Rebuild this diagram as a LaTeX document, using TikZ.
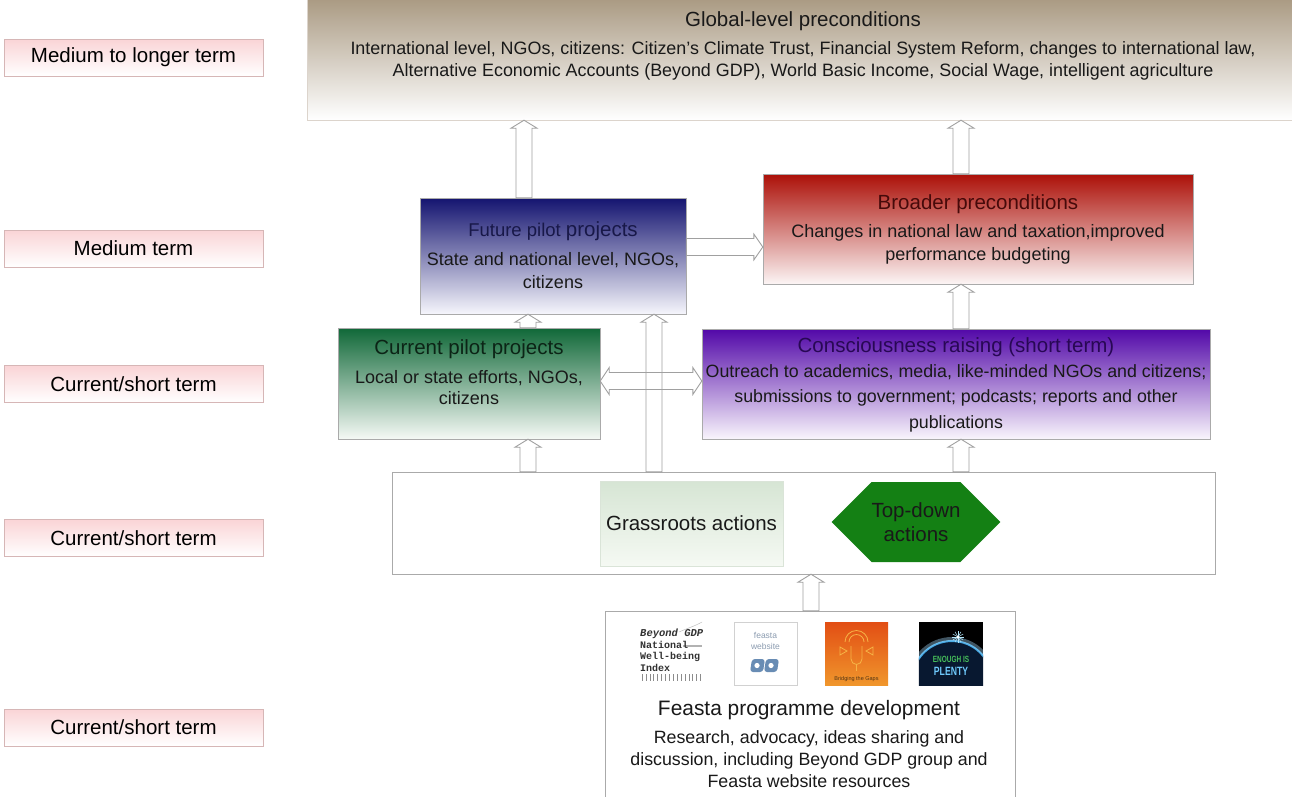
\documentclass[tikz,border=0pt]{standalone}
\usepackage{fontspec}
\setmainfont{Liberation Sans}
\newfontfamily\logomono{Liberation Mono}
\usetikzlibrary{calc,shapes.symbols}
\definecolor{globtop}{RGB}{168,152,128}
\definecolor{globborder}{RGB}{220,212,204}
\definecolor{futtop}{RGB}{20,20,112}
\definecolor{futbot}{RGB}{246,246,252}
\definecolor{brdtop}{RGB}{172,16,8}
\definecolor{brdbot}{RGB}{252,245,245}
\definecolor{curtop}{RGB}{16,104,56}
\definecolor{curbot}{RGB}{245,249,245}
\definecolor{contop}{RGB}{82,8,168}
\definecolor{conbot}{RGB}{249,245,252}
\definecolor{lbltop}{RGB}{250,212,214}
\definecolor{lblborder}{RGB}{214,182,182}
\definecolor{grasstop}{RGB}{214,229,212}
\definecolor{grassbot}{RGB}{245,249,243}
\definecolor{grassborder}{RGB}{218,228,216}
\definecolor{tdgreen}{RGB}{20,128,20}
\definecolor{arrowgray}{RGB}{160,160,160}
\definecolor{boxborder}{RGB}{170,170,170}
\definecolor{futtitle}{RGB}{24,24,72}
\definecolor{brdtitle}{RGB}{70,10,10}
\definecolor{curtitle}{RGB}{12,36,22}
\definecolor{contitle}{RGB}{40,8,84}
\definecolor{logotext}{RGB}{50,50,50}
\definecolor{webblue}{RGB}{140,156,176}
\definecolor{infblue}{RGB}{104,140,180}
\definecolor{orangeA}{RGB}{226,78,20}
\definecolor{orangeB}{RGB}{240,150,44}
\definecolor{logoyellow}{RGB}{246,180,70}
\definecolor{bridgetext}{RGB}{80,50,20}
\definecolor{planetdark}{RGB}{8,24,48}
\definecolor{planetblue}{RGB}{70,170,230}
\definecolor{enoughgreen}{RGB}{70,190,90}
\definecolor{plentyblue}{RGB}{110,200,250}
\newcommand\ftitle{\fontsize{20.5}{24}\selectfont}
\newcommand\hup[3]{\draw[harrow] let \p1=(#2), \p2=(#3) in
  (#1pt-8pt,\y1) -- (#1pt-8pt,\y2-8pt) -- (#1pt-13pt,\y2-8pt) -- (#1pt,\y2)
  -- (#1pt+13pt,\y2-8pt) -- (#1pt+8pt,\y2-8pt) -- (#1pt+8pt,\y1) -- cycle;}
\newcommand\hright[3]{\draw[harrow] let \p1=(#2), \p2=(#3) in
  (\x1,-#1pt+8.5pt) -- (\x2-9pt,-#1pt+8.5pt) -- (\x2-9pt,-#1pt+13pt) -- (\x2,-#1pt)
  -- (\x2-9pt,-#1pt-13pt) -- (\x2-9pt,-#1pt-8.5pt) -- (\x1,-#1pt-8.5pt) -- cycle;}
\newcommand\hboth[3]{\draw[harrow] let \p1=(#2), \p2=(#3) in
  (\x1,-#1pt) -- (\x1+9pt,-#1pt+13.5pt) -- (\x1+9pt,-#1pt+8.5pt) -- (\x2-9pt,-#1pt+8.5pt)
  -- (\x2-9pt,-#1pt+13.5pt) -- (\x2,-#1pt) -- (\x2-9pt,-#1pt-13.5pt) -- (\x2-9pt,-#1pt-8.5pt)
  -- (\x1+9pt,-#1pt-8.5pt) -- (\x1+9pt,-#1pt-13.5pt) -- cycle;}
\begin{document}
\begin{tikzpicture}[x=1pt,y=-1pt,
  vgrad/.style 2 args={top color=#1, bottom color=#2},
  lbl/.style={draw=lblborder, vgrad={lbltop}{white}, minimum width=259, minimum height=37, inner sep=0, font=\ftitle},
  ttl/.style={inner sep=0, font=\ftitle, align=center},
  bdy/.style={inner sep=0, align=center, text=black!90},
  harrow/.style={draw=arrowgray, line width=0.9, fill=none, line join=miter}]
\fill[white] (0,0) rectangle (1292,796);
\useasboundingbox (0,0) rectangle (1292,796);

% left time labels
\node[lbl] (l1) at (133.5,57.5) {Medium to longer term};
\node[lbl] (l2) at (133.5,248.5) {Medium term};
\node[lbl] (l3) at (133.5,384) {Current/short term};
\node[lbl] (l4) at (133.5,538) {Current/short term};
\node[lbl] (l5) at (133.5,727.5) {Current/short term};

% main boxes
\node[draw=globborder, vgrad={globtop}{white}, minimum width=989, minimum height=124, inner sep=0] (glob) at (801.5,58) {};
\node[ttl, text=black!90] (globt) at (803,21) {Global-level preconditions};
\node[bdy, font={\fontsize{17.9}{22}\selectfont}] (globb) at (803,61)
  {International level, NGOs, citizens: Citizen’s Climate Trust, Financial System Reform, changes to international law,\\
   Alternative Economic Accounts (Beyond GDP), World Basic Income, Social Wage, intelligent agriculture};

\node[draw=boxborder, vgrad={futtop}{futbot}, minimum width=266, minimum height=116, inner sep=0] (fut) at (553,256) {};
\node[inner sep=0, text=futtitle] (futt) at (553,231) {\fontsize{18.5}{22}\selectfont Future pilot \fontsize{20.5}{24}\selectfont projects};
\node[bdy, font={\fontsize{18}{23}\selectfont}] (futb) at (553,270.5) {State and national level, NGOs,\\citizens};

\node[draw=boxborder, vgrad={brdtop}{brdbot}, minimum width=430, minimum height=110, inner sep=0] (brd) at (978,229) {};
\node[ttl, text=brdtitle] (brdt) at (978,204) {Broader preconditions};
\node[bdy, font={\fontsize{18}{23}\selectfont}] (brdb) at (978,244.5) {Changes in national law and taxation,improved\\performance budgeting};

\node[draw=boxborder, vgrad={curtop}{curbot}, minimum width=262, minimum height=111, inner sep=0] (cur) at (469,383.5) {};
\node[ttl, text=curtitle] (curt) at (469,349) {Current pilot projects};
\node[bdy, font={\fontsize{18}{21}\selectfont}] (curb) at (469,387.5) {Local or state efforts, NGOs,\\citizens};

\node[draw=boxborder, vgrad={contop}{conbot}, minimum width=508, minimum height=110, inner sep=0] (con) at (956,384) {};
\node[ttl, text=contitle] (cont) at (956,347) {Consciousness raising (short term)};
\node[bdy, font={\fontsize{17.8}{25.5}\selectfont}] (conb) at (956,398) {Outreach to academics, media, like-minded NGOs and citizens;\\submissions to government; podcasts; reports and other\\publications};

% grassroots / top-down container
\node[draw=boxborder, fill=white, minimum width=823, minimum height=102, inner sep=0] (grp) at (803.5,523) {};
\node[draw=grassborder, vgrad={grasstop}{grassbot}, minimum width=183, minimum height=85, inner sep=0, font=\ftitle, text=black!90] (gra) at (691.5,523.5) {Grassroots actions};
\node[signal, signal to=west and east, signal pointer angle=90, fill=tdgreen, minimum width=158, minimum height=80, inner sep=0, align=center, font=\ftitle, text=black!90] (td) at (916,522) {Top-down\\actions};

% Feasta box
\node[draw=boxborder, fill=white, minimum width=410, minimum height=220, inner sep=0] (fea) at (810,721) {};
\node[ttl, text=black!90, font={\fontsize{20.9}{24}\selectfont}] (feat) at (809,710) {Feasta programme development};
\node[bdy, font={\fontsize{17.8}{22}\selectfont}] (feab) at (809,759) {Research, advocacy, ideas sharing and\\discussion, including Beyond GDP group and\\Feasta website resources};

% logo 1: Beyond GDP index
\node[minimum width=67, minimum height=63, inner sep=0] (lg1) at (669.5,653.5) {};
\draw[black!25, line width=0.5] (679,632) .. controls (688,628) and (695,626) .. (702,622);
\draw[black!30, line width=1.2] (683,646) -- (702,646);
\node[anchor=west, inner sep=0, text=logotext, font={\logomono\bfseries\itshape\fontsize{10.5}{11}\selectfont}] (lg1a) at (640,634) {Beyond GDP};
\node[anchor=west, inner sep=0, text=logotext, font={\logomono\bfseries\fontsize{10}{11}\selectfont}] (lg1b) at (640,645) {National};
\node[anchor=west, inner sep=0, text=logotext, font={\logomono\bfseries\fontsize{10}{11}\selectfont}] (lg1c) at (640,657) {Well-being};
\node[anchor=west, inner sep=0, text=logotext, font={\logomono\bfseries\fontsize{10}{11}\selectfont}] (lg1d) at (640,668) {Index};
\foreach \i in {0,...,15} \draw[black!45, line width=0.6] (642+\i*3.9,674) -- (642+\i*3.9,681);

% logo 2: feasta website
\node[draw=black!18, fill=white, minimum width=63, minimum height=63, inner sep=0] (lg2) at (765.5,653.5) {};
\node[inner sep=0, align=center, text=webblue, font={\fontsize{8.5}{11}\selectfont}] (lg2t) at (765.5,641) {feasta\\website};
\fill[infblue, rounded corners=3] (752,659) -- (765,659) -- (763,672) -- (750,672) -- cycle;
\fill[infblue, rounded corners=3] (766,659) -- (779,659) -- (777,672) -- (764,672) -- cycle;
\fill[white] (757,665.5) circle (2.6);
\fill[white] (771,665.5) circle (2.6);

% logo 3: Bridging the Gaps
\node[vgrad={orangeA}{orangeB}, minimum width=63, minimum height=63, inner sep=0] (lg3) at (856.5,653.5) {};
\draw[logoyellow, line width=0.8] (845,642) arc (180:360:11.5);
\draw[logoyellow, line width=0.8] (849,642) arc (180:360:7.5);
\draw[logoyellow, line width=0.8] (851,646) -- (851,659) arc (180:0:5.5) -- (862,646);
\draw[logoyellow, line width=0.8] (856.5,664.5) -- (856.5,671);
\draw[logoyellow, line width=0.8] (840,647) -- (847,651) -- (840,655) -- cycle;
\draw[logoyellow, line width=0.8] (873,647) -- (866,651) -- (873,655) -- cycle;
\node[inner sep=0, text=bridgetext, font={\fontsize{5.5}{6}\selectfont}] (lg3t) at (856.5,679) {Bridging the Gaps};

% logo 4: Enough is Plenty
\node[fill=black, minimum width=64, minimum height=63, inner sep=0] (lg4) at (951,653.5) {};
\begin{scope}
\clip (lg4.south west) rectangle (lg4.north east);
\fill[planetdark] (952,681) circle (40);
\draw[planetblue, line width=2] (952,681) circle (40);
\draw[planetblue!50, line width=4, opacity=0.4] (952,681) circle (42);
\end{scope}
\foreach \a in {0,30,...,330} \draw[white!70!cyan, line width=0.5] (958,637) -- ++(\a:6);
\fill[white] (958,637) circle (1.6);
\node[inner sep=0, text=enoughgreen, font={\bfseries\fontsize{9}{10}\selectfont}] (lg4a) at (951,659) {\scalebox{0.72}[1]{ENOUGH IS}};
\node[inner sep=0, text=plentyblue, font={\bfseries\fontsize{12}{13}\selectfont}] (lg4b) at (951,671) {\scalebox{0.72}[1]{PLENTY}};

% hollow block arrows
\hup{524}{fut.north}{glob.south}
\hup{961}{brd.north}{glob.south}
\hright{247}{fut.east}{brd.west}
\hup{528}{cur.north}{fut.south}
\hup{654}{grp.north}{fut.south}
\hup{961}{con.north}{brd.south}
\hboth{381}{cur.east}{con.west}
\hup{528}{grp.north}{cur.south}
\hup{961}{grp.north}{con.south}
\hup{811}{fea.north}{grp.south}
\end{tikzpicture}
\end{document}
